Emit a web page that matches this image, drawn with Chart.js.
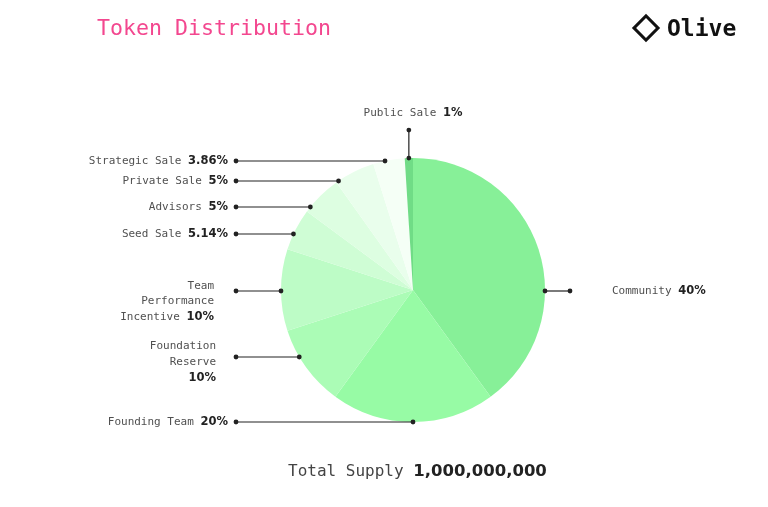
<!DOCTYPE html>
<html>
<head>
<meta charset="utf-8">
<script src="https://cdn.jsdelivr.net/npm/chart.js@4"></script>
<style>
  html, body { margin: 0; padding: 0; background: #fff; }
  #wrap { position: relative; width: 768px; height: 507px; overflow: hidden; }
  #myChart { position: absolute; left: 0; top: 0; }
  .title { position: absolute; left: 97px; top: 15px; font: 21.6px 'DejaVu Sans Mono', monospace; color: #f3478f; }
  .logo { position: absolute; left: 631px; top: 15px; font: bold 23px 'DejaVu Sans Mono', monospace; color: #111; display: flex; align-items: center; }
  .logo .dia { width: 14px; height: 14px; border: 3px solid #111; transform: rotate(45deg); margin-right: 11px; margin-left: 5px; }
  .total { position: absolute; left: 288px; top: 461px; font: 16px 'DejaVu Sans Mono', monospace; color: #444; white-space: nowrap; }
  .total b { color: #222; font-family: 'DejaVu Sans', sans-serif; font-size: 16.5px; }
</style>
</head>
<body>
<div id="wrap">
  <canvas id="myChart" width="768" height="507"></canvas>
  <div class="title">Token Distribution</div>
  <div class="logo"><div class="dia"></div>Olive</div>
  <div class="total">Total Supply <b>1,000,000,000</b></div>
</div>
<script>
// slices, clockwise from the top
const categories = [
  ['Community'],
  ['Founding Team'],
  ['Foundation', 'Reserve'],
  ['Team', 'Performance', 'Incentive'],
  ['Seed Sale'],
  ['Advisors'],
  ['Private Sale'],
  ['Strategic Sale'],
  ['Public Sale']
]
const shares = [40, 20, 10, 10, 5.14, 5, 5, 3.86, 1]
const valueLabels = ['40%', '20%', '10%', '10%', '5.14%', '5%', '5%', '3.86%', '1%']

const colors = [
  '#87f098', // Community
  '#97fba5', // Founding Team
  '#abfcb6', // Foundation Reserve
  '#bdfcc6', // Team Performance Incentive
  '#cffdd5', // Seed Sale
  '#ddfee1', // Advisors
  '#e9feec', // Private Sale
  '#f5fff6', // Strategic Sale
  '#70dc86'  // Public Sale
]

// leader line layout: y of each label line (null = vertical leader on top)
const leaderY = [291, 422, 357, 291, 234, 207, 181, 161, null]
const leftEnd = 236
const rightEnd = 570

const labelFont = '11px "DejaVu Sans Mono", monospace'
const boldFont = 'bold 11.5px "DejaVu Sans", sans-serif'

function dot(c, x, y) {
  c.beginPath()
  c.arc(x, y, 2.4, 0, Math.PI * 2)
  c.fill()
}

// draws a line of text with a bold value at the end
function labelLine(c, plain, bold, x, y, align) {
  c.font = labelFont
  const w1 = c.measureText(plain).width
  c.font = boldFont
  const w2 = bold ? c.measureText(bold).width : 0
  let start = x
  if (align === 'right') start = x - w1 - w2
  if (align === 'center') start = x - (w1 + w2) / 2
  c.textAlign = 'left'
  c.textBaseline = 'middle'
  c.font = labelFont
  c.fillStyle = '#505050'
  c.fillText(plain, start, y)
  if (bold) {
    c.font = boldFont
    c.fillStyle = '#222'
    c.fillText(bold, start + w1, y)
  }
}

const leaderPlugin = {
  id: 'leaders',
  afterDraw(chart) {
    const c = chart.ctx
    const arcs = chart.getDatasetMeta(0).data
    c.save()
    c.strokeStyle = '#222'
    c.fillStyle = '#222'
    c.lineWidth = 1.2
    arcs.forEach((arc, i) => {
      const cx = arc.x, cy = arc.y, r = arc.outerRadius
      const name = categories[i]
      if (leaderY[i] === null) {
        // small slice at the top gets a vertical leader
        const mid = (arc.startAngle + arc.endAngle) / 2
        const px = cx + r * Math.cos(mid)
        const py = cy + r * Math.sin(mid)
        c.beginPath()
        c.moveTo(px, py)
        c.lineTo(px, py - 28)
        c.stroke()
        c.fillStyle = '#222'
        dot(c, px, py)
        dot(c, px, py - 28)
        labelLine(c, name[0] + ' ', valueLabels[i], cx, py - 45, 'center')
        return
      }
      const ly = leaderY[i]
      const dy = ly - cy
      const dx = Math.sqrt(Math.max(r * r - dy * dy, 0))
      const right = i === 0
      const px = right ? cx + dx : cx - dx
      const ex = right ? rightEnd : leftEnd
      c.beginPath()
      c.moveTo(px, ly)
      c.lineTo(ex, ly)
      c.stroke()
      c.fillStyle = '#222'
      dot(c, px, ly)
      dot(c, ex, ly)
      if (right) {
        labelLine(c, name[0] + ' ', valueLabels[i], 612, ly, 'left')
      } else if (name.length === 1) {
        labelLine(c, name[0] + ' ', valueLabels[i], 228, ly, 'right')
      } else if (name.length === 3) {
        labelLine(c, name[0], null, 214, ly - 5, 'right')
        labelLine(c, name[1], null, 214, ly + 10, 'right')
        labelLine(c, name[2] + ' ', valueLabels[i], 214, ly + 26, 'right')
      } else {
        labelLine(c, name[0], null, 216, ly - 11, 'right')
        labelLine(c, name[1], null, 216, ly + 5, 'right')
        labelLine(c, '', valueLabels[i], 216, ly + 21, 'right')
      }
    })
    c.restore()
  }
}

const ctx = document.getElementById('myChart').getContext('2d')
const myChart = new Chart(ctx, {
  type: 'pie',
  data: {
    labels: categories.map((n) => n.join(' ')),
    datasets: [{
      data: shares,
      backgroundColor: colors,
      borderWidth: 0
    }]
  },
  options: {
    responsive: false,
    animation: false,
    devicePixelRatio: 1,
    layout: {
      padding: { left: 281, right: 223, top: 158, bottom: 85 }
    },
    plugins: {
      legend: { display: false },
      tooltip: { enabled: false }
    }
  },
  plugins: [leaderPlugin]
})
</script>
</body>
</html>
